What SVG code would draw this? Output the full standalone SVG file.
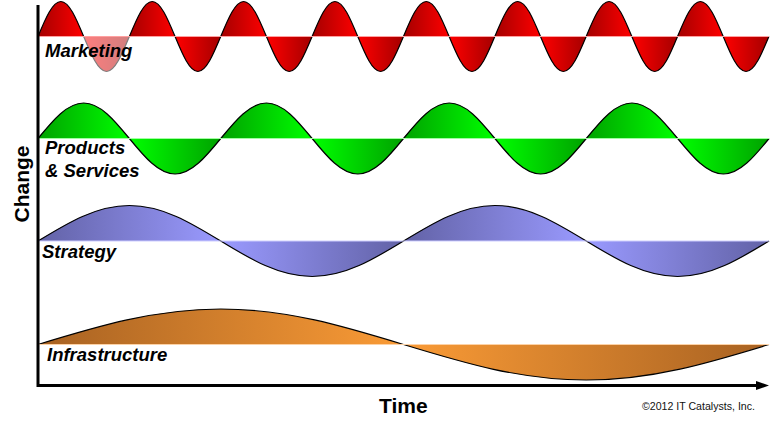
<svg xmlns="http://www.w3.org/2000/svg" width="783" height="432" viewBox="0 0 783 432">
<style>
.wave{stroke:#000;stroke-width:1.2;stroke-linejoin:round}
.base{stroke-width:1;fill:none}
.lbl{font-family:"Liberation Sans",Arial,sans-serif;font-weight:bold;font-style:italic;font-size:18.5px;fill:#000}
.axlbl{font-family:"Liberation Sans",Arial,sans-serif;font-weight:bold;font-size:21px;fill:#000}
.copy{font-family:"Liberation Sans",Arial,sans-serif;font-size:11.5px;fill:#111}
.axis{fill:none;stroke:#000;stroke-width:3}
</style>
<defs>
<linearGradient id="gRed" gradientUnits="userSpaceOnUse" x1="38" y1="0" x2="83.69" y2="0" spreadMethod="reflect">
<stop offset="0" stop-color="#a40000"/><stop offset="1" stop-color="#ff0000"/>
</linearGradient>
<linearGradient id="gGreen" gradientUnits="userSpaceOnUse" x1="38" y1="0" x2="129.375" y2="0" spreadMethod="reflect">
<stop offset="0" stop-color="#00a200"/><stop offset="1" stop-color="#00ff00"/>
</linearGradient>
<linearGradient id="gBlue" gradientUnits="userSpaceOnUse" x1="38" y1="0" x2="220.75" y2="0" spreadMethod="reflect">
<stop offset="0" stop-color="#6262a6"/><stop offset="1" stop-color="#9a9aff"/>
</linearGradient>
<linearGradient id="gOrange" gradientUnits="userSpaceOnUse" x1="38" y1="0" x2="403.5" y2="0" spreadMethod="reflect">
<stop offset="0" stop-color="#a86222"/><stop offset="1" stop-color="#fa9b36"/>
</linearGradient>
<marker id="arrow" markerUnits="userSpaceOnUse" markerWidth="16" markerHeight="12" refX="0" refY="5" orient="auto" viewBox="0 0 16 10">
<path d="M0,0.5 L13,5 L0,9.5 Z" fill="#000"/>
</marker>
</defs>

<g id="marketing">
<path class="wave" fill="url(#gRed)" d="M38,36.5 c7.45,-17.93 14.58,-35 22.84,-35 c8.27,0 15.39,17.07 22.84,35"/>
<path class="wave" fill="url(#gRed)" opacity="0.5" d="M83.69,36.5 c7.45,17.93 14.58,35 22.84,35 c8.27,0 15.39,-17.07 22.84,-35"/>
<path class="wave" fill="url(#gRed)" d="M129.375,36.5
c7.45,-17.93 14.58,-35 22.84,-35 c8.27,0 15.39,17.07 22.84,35 c7.45,17.93 14.58,35 22.84,35 c8.27,0 15.39,-17.07 22.84,-35
c7.45,-17.93 14.58,-35 22.84,-35 c8.27,0 15.39,17.07 22.84,35 c7.45,17.93 14.58,35 22.84,35 c8.27,0 15.39,-17.07 22.84,-35
c7.45,-17.93 14.58,-35 22.84,-35 c8.27,0 15.39,17.07 22.84,35 c7.45,17.93 14.58,35 22.84,35 c8.27,0 15.39,-17.07 22.84,-35
c7.45,-17.93 14.58,-35 22.84,-35 c8.27,0 15.39,17.07 22.84,35 c7.45,17.93 14.58,35 22.84,35 c8.27,0 15.39,-17.07 22.84,-35
c7.45,-17.93 14.58,-35 22.84,-35 c8.27,0 15.39,17.07 22.84,35 c7.45,17.93 14.58,35 22.84,35 c8.27,0 15.39,-17.07 22.84,-35
c7.45,-17.93 14.58,-35 22.84,-35 c8.27,0 15.39,17.07 22.84,35 c7.45,17.93 14.58,35 22.84,35 c8.27,0 15.39,-17.07 22.84,-35
c7.45,-17.93 14.58,-35 22.84,-35 c8.27,0 15.39,17.07 22.84,35 c7.45,17.93 14.58,35 22.84,35 c8.27,0 15.39,-17.07 22.84,-35"/>
<line class="base" x1="38" y1="36.5" x2="769" y2="36.5" stroke="#ffa0a0"/>
<text class="lbl" x="45" y="57">Marketing</text>
</g>

<g id="products">
<path class="wave" fill="url(#gGreen)" d="M38,138.5
c14.9,-18.19 29.15,-35.5 45.69,-35.5 c16.54,0 30.79,17.31 45.69,35.5 c14.9,18.19 29.15,35.5 45.69,35.5 c16.54,0 30.79,-17.31 45.69,-35.5
c14.9,-18.19 29.15,-35.5 45.69,-35.5 c16.54,0 30.79,17.31 45.69,35.5 c14.9,18.19 29.15,35.5 45.69,35.5 c16.54,0 30.79,-17.31 45.69,-35.5
c14.9,-18.19 29.15,-35.5 45.69,-35.5 c16.54,0 30.79,17.31 45.69,35.5 c14.9,18.19 29.15,35.5 45.69,35.5 c16.54,0 30.79,-17.31 45.69,-35.5
c14.9,-18.19 29.15,-35.5 45.69,-35.5 c16.54,0 30.79,17.31 45.69,35.5 c14.9,18.19 29.15,35.5 45.69,35.5 c16.54,0 30.79,-17.31 45.69,-35.5"/>
<line class="base" x1="38" y1="138.5" x2="769" y2="138.5" stroke="#a0ffa0"/>
<text class="lbl" x="45" y="154">Products</text>
<text class="lbl" x="45" y="177">&amp; Services</text>
</g>

<g id="strategy">
<path class="wave" fill="url(#gBlue)" d="M38,241
c29.8,-18.19 58.31,-35.5 91.38,-35.5 c33.07,0 61.58,17.31 91.38,35.5 c29.8,18.19 58.31,35.5 91.38,35.5 c33.07,0 61.58,-17.31 91.38,-35.5
c29.8,-18.19 58.31,-35.5 91.38,-35.5 c33.07,0 61.58,17.31 91.38,35.5 c29.8,18.19 58.31,35.5 91.38,35.5 c33.07,0 61.58,-17.31 91.38,-35.5"/>
<line class="base" x1="38" y1="241" x2="769" y2="241" stroke="#ceceff"/>
<text class="lbl" x="42" y="258">Strategy</text>
</g>

<g id="infrastructure">
<path class="wave" fill="url(#gOrange)" d="M38,344.5
c59.6,-18.19 116.61,-35.5 182.75,-35.5 c66.14,0 123.15,17.31 182.75,35.5 c59.6,18.19 116.61,35.5 182.75,35.5 c66.14,0 123.15,-17.31 182.75,-35.5"/>
<line class="base" x1="38" y1="344.5" x2="769" y2="344.5" stroke="#fdd2a6"/>
<text class="lbl" x="47" y="361">Infrastructure</text>
</g>

<g id="connectors">
<path class="axis" d="M38,5 V385.5 H756" marker-end="url(#arrow)"/>
</g>

<g id="labels">
<text class="axlbl" transform="translate(29,184) rotate(-90)" text-anchor="middle">Change</text>
<text class="axlbl" x="379" y="413">Time</text>
<text class="copy" x="642" y="410" textLength="113" lengthAdjust="spacingAndGlyphs">©2012 IT Catalysts, Inc.</text>
</g>
</svg>
